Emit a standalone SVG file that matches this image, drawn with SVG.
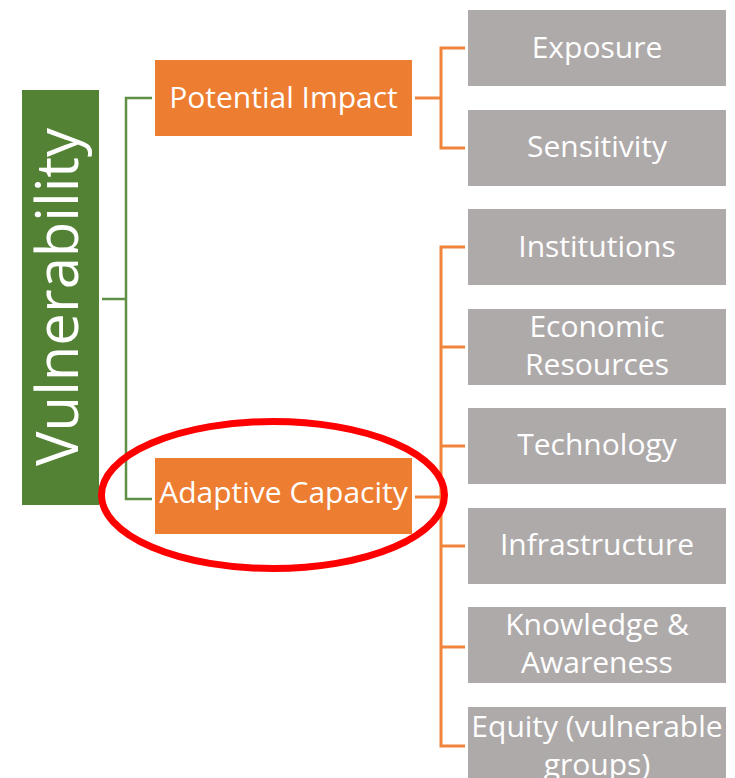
<svg xmlns="http://www.w3.org/2000/svg" width="735" height="778" viewBox="0 0 735 778">
  <style>
    .lbl { font-family: "Open Sans", "Liberation Sans", sans-serif; fill: #ffffff; text-anchor: middle; }
    .mid { font-size: 30px; }
    .big { font-size: 58px; }
    .root { fill: #548235; }
    .factor { fill: #ED7D31; }
    .leaf { fill: #AEAAAA; }
    .tree-g { stroke: #5E8F45; fill: none; stroke-width: 2.5; }
    .tree-o { stroke: #F0843A; fill: none; stroke-width: 3; }
  </style>
  <rect width="735" height="778" fill="#ffffff"/>

  <!-- connectors -->
  <g id="connectors">
    <!-- root to factors -->
    <line class="tree-g" x1="102" y1="299" x2="126" y2="299" stroke-width="5"/>
    <polyline class="tree-g" points="152,98 126,98 126,499 152,499"/>
    <!-- Potential Impact to leaves -->
    <line class="tree-o" x1="415" y1="98" x2="441" y2="98"/>
    <polyline class="tree-o" points="465,48 441,48 441,148 465,148"/>
    <!-- Adaptive Capacity to leaves -->
    <line class="tree-o" x1="415" y1="497" x2="441" y2="497" stroke-width="5"/>
    <polyline class="tree-o" points="465,247 441,247 441,746 465,746"/>
    <line class="tree-o" x1="441" y1="347" x2="465" y2="347"/>
    <line class="tree-o" x1="441" y1="446" x2="465" y2="446"/>
    <line class="tree-o" x1="441" y1="546" x2="465" y2="546"/>
    <line class="tree-o" x1="441" y1="647" x2="465" y2="647"/>
  </g>

  <!-- root -->
  <g id="vulnerability">
    <rect class="root" x="22" y="90" width="77" height="415"/>
    <text class="lbl big" transform="translate(78,297) rotate(-90)" x="0" y="0">Vulnerability</text>
  </g>

  <!-- factors -->
  <g id="potential-impact">
    <rect class="factor" x="155" y="60" width="257" height="76"/>
    <text class="lbl mid" x="283.5" y="108">Potential Impact</text>
  </g>
  <g id="adaptive-capacity">
    <rect class="factor" x="155" y="458" width="257" height="76"/>
    <text class="lbl mid" x="283.5" y="503">Adaptive Capacity</text>
  </g>

  <!-- leaves -->
  <g id="exposure">
    <rect class="leaf" x="468" y="10" width="258" height="76"/>
    <text class="lbl mid" x="597" y="58">Exposure</text>
  </g>
  <g id="sensitivity">
    <rect class="leaf" x="468" y="110" width="258" height="76"/>
    <text class="lbl mid" x="597" y="157">Sensitivity</text>
  </g>
  <g id="institutions">
    <rect class="leaf" x="468" y="209" width="258" height="76"/>
    <text class="lbl mid" x="597" y="257">Institutions</text>
  </g>
  <g id="economic-resources">
    <rect class="leaf" x="468" y="309" width="258" height="76"/>
    <text class="lbl mid" x="597" y="337">Economic</text>
    <text class="lbl mid" x="597" y="375">Resources</text>
  </g>
  <g id="technology">
    <rect class="leaf" x="468" y="408" width="258" height="76"/>
    <text class="lbl mid" x="597" y="455">Technology</text>
  </g>
  <g id="infrastructure">
    <rect class="leaf" x="468" y="508" width="258" height="76"/>
    <text class="lbl mid" x="597" y="555">Infrastructure</text>
  </g>
  <g id="knowledge-awareness">
    <rect class="leaf" x="468" y="607" width="258" height="76"/>
    <text class="lbl mid" x="597" y="635">Knowledge &amp;</text>
    <text class="lbl mid" x="597" y="673">Awareness</text>
  </g>
  <g id="equity">
    <rect class="leaf" x="468" y="707" width="258" height="76"/>
    <text class="lbl mid" x="597" y="737">Equity (vulnerable</text>
    <text class="lbl mid" x="597" y="775">groups)</text>
  </g>

  <!-- highlight ring -->
  <ellipse cx="273" cy="495" rx="171.5" ry="73.5" fill="none" stroke="#FF0000" stroke-width="7"/>
</svg>
